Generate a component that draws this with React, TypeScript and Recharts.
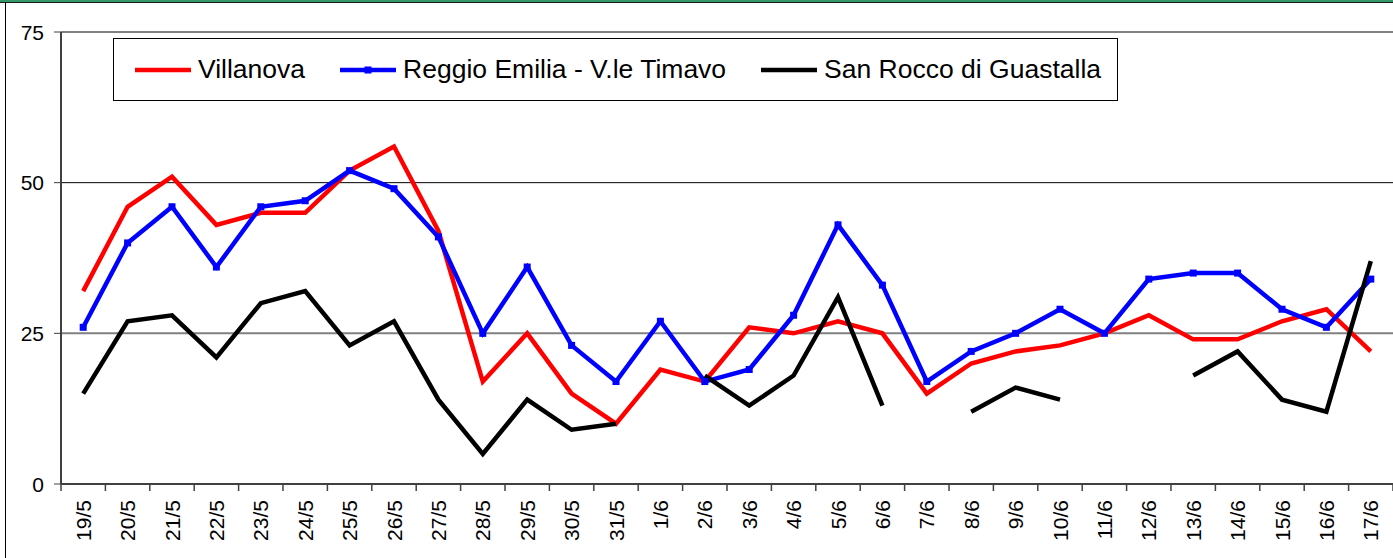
import { LineChart, Line, XAxis, YAxis, ReferenceLine, Legend } from "recharts"

const categories = [
  "19/5", "20/5", "21/5", "22/5", "23/5", "24/5", "25/5", "26/5", "27/5", "28/5",
  "29/5", "30/5", "31/5", "1/6", "2/6", "3/6", "4/6", "5/6", "6/6", "7/6",
  "8/6", "9/6", "10/6", "11/6", "12/6", "13/6", "14/6", "15/6", "16/6", "17/6",
]

const villanova = [32, 46, 51, 43, 45, 45, 52, 56, 42, 17, 25, 15, 10, 19, 17, 26, 25, 27, 25, 15, 20, 22, 23, 25, 28, 24, 24, 27, 29, 22]
const reggioEmilia = [26, 40, 46, 36, 46, 47, 52, 49, 41, 25, 36, 23, 17, 27, 17, 19, 28, 43, 33, 17, 22, 25, 29, 25, 34, 35, 35, 29, 26, 34]
const sanRocco = [15, 27, 28, 21, 30, 32, 23, 27, 14, 5, 14, 9, 10, null, 18, 13, 18, 31, 13, null, 12, 16, 14, null, null, 18, 22, 14, 12, 37]

const yTicks = [0, 25, 50, 75]
const legendOrder = ["villanova", "reggio", "sanRocco"]

const data = categories.map((label, i) => ({
  i,
  label,
  villanova: villanova[i],
  reggio: reggioEmilia[i],
  sanRocco: sanRocco[i],
}))

// label ticks on each day, tick marks between days
const xTicks = categories.flatMap((_, i) => [i - 0.5, i]).concat(categories.length - 0.5)

const FONT = '"Liberation Sans", Arial, sans-serif'

function DayTick({ x, y, payload }: any) {
  const v = payload.value
  if (!Number.isInteger(v)) {
    return <line x1={x} x2={x} y1={y - 16} y2={y - 9} stroke="#404040" strokeWidth={1.5} />
  }
  return (
    <text
      x={x}
      y={y}
      transform={`rotate(-90, ${x}, ${y})`}
      textAnchor="end"
      dominantBaseline="central"
      fontSize={21}
      fontFamily={FONT}
      fill="#000"
    >
      {categories[v]}
    </text>
  )
}

function ValueTick({ x, y, payload }: any) {
  return (
    <text x={x} y={y} textAnchor="end" dominantBaseline="central" fontSize={21} fontFamily={FONT} fill="#000">
      {payload.value}
    </text>
  )
}

function SquareDot({ cx, cy }: any) {
  if (cx == null || cy == null) return null
  return <rect x={cx - 3.5} y={cy - 3.5} width={7} height={7} fill="#0000ff" />
}

function LegendBox({ payload }: any) {
  const items = [...(payload || [])].sort(
    (a: any, b: any) => legendOrder.indexOf(a.dataKey) - legendOrder.indexOf(b.dataKey)
  )
  return (
    <div
      style={{
        display: "flex",
        alignItems: "center",
        width: 1005,
        height: 63,
        boxSizing: "border-box",
        border: "1px solid #000",
        background: "#fff",
        paddingLeft: 21,
        fontFamily: FONT,
        fontSize: 26.5,
        color: "#000",
        whiteSpace: "nowrap",
      }}
    >
      {items.map((entry: any) => (
        <div key={entry.value} style={{ display: "flex", alignItems: "center", marginRight: 35, flexShrink: 0 }}>
          <svg width={56} height={10} style={{ marginRight: 7 }}>
            <line x1={0} x2={56} y1={5} y2={5} stroke={entry.color} strokeWidth={4.5} />
            {entry.dataKey === "reggio" && <rect x={24.5} y={1.5} width={7} height={7} fill={entry.color} />}
          </svg>
          <span>{entry.value}</span>
        </div>
      ))}
    </div>
  )
}

export default function App() {
  return (
    <div style={{ position: "absolute", left: 0, top: 0, width: 1393, height: 558, background: "#fff", overflow: "hidden" }}>
      <LineChart width={1393} height={558} data={data} margin={{ top: 32, right: 0, bottom: 0, left: 0 }}>
        <ReferenceLine y={75} stroke="#808080" strokeWidth={2} />
        <ReferenceLine y={50} stroke="#000" strokeWidth={1} />
        <ReferenceLine y={25} stroke="#808080" strokeWidth={2} />
        <XAxis
          dataKey="i"
          type="number"
          domain={[-0.5, categories.length - 0.5]}
          ticks={xTicks}
          interval={0}
          tickLine={false}
          tickSize={0}
          tickMargin={16}
          tick={<DayTick />}
          axisLine={{ stroke: "#404040", strokeWidth: 2 }}
          height={74}
        />
        <YAxis
          domain={[0, 75]}
          ticks={yTicks}
          width={61}
          tickSize={7}
          tickMargin={10}
          axisLine={{ stroke: "#404040", strokeWidth: 2 }}
          tickLine={{ stroke: "#404040" }}
          tick={<ValueTick />}
        />
        <Legend
          layout="vertical"
          align="center"
          verticalAlign="middle"
          content={<LegendBox />}
          wrapperStyle={{ top: 38, left: 113, width: 1005 }}
        />
        <Line
          dataKey="villanova"
          name="Villanova"
          stroke="#ff0000"
          strokeWidth={4.5}
          dot={false}
          activeDot={false}
          isAnimationActive={false}
        />
        <Line
          dataKey="reggio"
          name="Reggio Emilia - V.le Timavo"
          stroke="#0000ff"
          strokeWidth={4.5}
          dot={<SquareDot />}
          activeDot={false}
          isAnimationActive={false}
        />
        <Line
          dataKey="sanRocco"
          name="San Rocco di Guastalla"
          stroke="#000000"
          strokeWidth={4.5}
          dot={false}
          activeDot={false}
          isAnimationActive={false}
        />
      </LineChart>
      <div style={{ position: "absolute", left: 0, top: 0, width: 1393, height: 2, background: "#339966" }} />
      <div style={{ position: "absolute", left: 0, top: 2, width: 1393, height: 1, background: "#1a1a1a" }} />
      <div style={{ position: "absolute", left: 5, top: 2, width: 1, height: 556, background: "#000" }} />
    </div>
  )
}
